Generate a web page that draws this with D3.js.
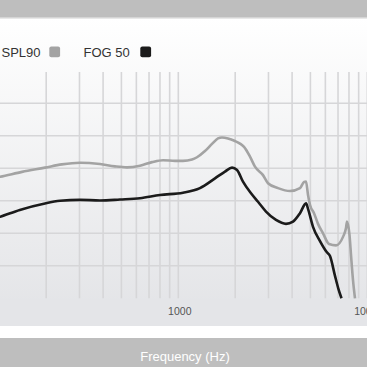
<!DOCTYPE html>
<html><head><meta charset="utf-8">
<script src="https://cdn.jsdelivr.net/npm/d3@7"></script>
<style>html,body{margin:0;padding:0;background:#fff;overflow:hidden}svg{display:block}</style>
</head><body>
<svg id="c" width="367" height="367"></svg>
<script>
const seriesNames = ["SPL90", "FOG 50"];
const seriesColors = ["#a3a3a3", "#1b1b1b"];
const xTickLabels = [100, 1000, 10000];
const yGridValues = [10, 20, 30, 40, 50, 60];
const axisTitle = "Frequency (Hz)";

const splFreq = [100,114,149,197,242,302,385,462,535,627,726,830,961,1059,1182,1256,1384,1508,1622,1703,1832,1995,2121,2227,2395,2545,2806,2983,3370,3899,4405,4625,4740,4857,4977,5224,5485,5830,6272,6831,7437,7715,7809,8050,8200,8401,8608];
const splDb   = [36.8,37.4,38.9,40.2,41.2,41.7,41.3,40.6,40.3,40.8,41.9,42.5,42.3,42.3,42.7,43.4,45.3,47.5,49.2,49.5,49.2,48.4,47.6,46.6,43.6,40.5,37.9,35.4,33.9,33.0,33.9,35.8,35.9,31.8,28.7,26.2,22.9,20.0,16.7,16.3,18.9,21.6,23.6,19.5,13.3,5.6,0];
const fogFreq = [100,114,145,197,237,302,385,491,627,800,1059,1302,1564,1766,1924,2045,2199,2425,2641,2911,3288,3714,4045,4405,4740,4875,5161,5620,6083,6348,6747,7025,7303];
const fogDb   = [24.1,25.1,27.2,29.2,30.0,30.3,30.1,30.4,30.8,31.8,32.5,33.9,36.9,39.0,40.2,39.5,35.9,32.3,29.7,26.7,24.1,22.9,23.6,26.2,29.2,27.2,22.0,17.6,14.3,13.0,6.9,3.0,0];

const W = 367, H = 367;
const svg = d3.select("#c");
const defs = svg.append("defs");
const grad = defs.append("linearGradient").attr("id","bg").attr("x1",0).attr("y1",0).attr("x2",0).attr("y2",1);
grad.append("stop").attr("offset","0%").attr("stop-color","#ffffff");
grad.append("stop").attr("offset","100%").attr("stop-color","#e2e3e6");

const plotTop = 70.8, plotBottom = 298.3;
const x = d3.scaleLog().domain([100, 10000]).range([178.3 - 189, 178.3 + 189]);
const y = d3.scaleLinear().domain([0, 70]).range([plotBottom, plotTop]);

// background
svg.append("rect").attr("x",0).attr("y",18).attr("width",W).attr("height",308).attr("fill","url(#bg)");
svg.append("rect").attr("x",0).attr("y",298.3).attr("width",W).attr("height",28).attr("fill","#e4e5e8");
svg.append("rect").attr("x",0).attr("y",326).attr("width",W).attr("height",12).attr("fill","#ffffff");
// top bar
svg.append("rect").attr("x",0).attr("y",0).attr("width",W).attr("height",17.7).attr("fill","#bebebe");
svg.append("rect").attr("x",0).attr("y",17.7).attr("width",W).attr("height",1).attr("fill","#dedede");
// bottom bar
svg.append("rect").attr("x",0).attr("y",338).attr("width",W).attr("height",29).attr("fill","#bebebe");

// vertical grid
const vTicks = [];
[100,1000].forEach(d => { for (let m=1; m<=10; m++) vTicks.push(d*m); });
const vUnique = Array.from(new Set(vTicks));
svg.append("g").selectAll("line").data(vUnique).join("line")
  .attr("x1", d=>x(d)).attr("x2", d=>x(d))
  .attr("y1", 72).attr("y2", plotBottom)
  .attr("stroke", "#d6d6d8").attr("stroke-width", 1.6);
// horizontal grid
svg.append("g").selectAll("line").data(yGridValues).join("line")
  .attr("x1", 0).attr("x2", W)
  .attr("y1", d=>y(d)).attr("y2", d=>y(d))
  .attr("stroke", "#d6d6d8").attr("stroke-width", 1.6);

// x tick labels
svg.append("g").selectAll("text").data(xTickLabels).join("text")
  .attr("x", d=>x(d)+1.5).attr("y", 315)
  .attr("text-anchor","middle")
  .attr("font-family","'Liberation Sans', Arial, sans-serif")
  .attr("font-size", 10.5).attr("fill", "#555")
  .text(d=>d);

// lines
const line = d3.line().x(d=>x(d[0])).y(d=>y(d[1])).curve(d3.curveMonotoneX);
const clip = defs.append("clipPath").attr("id","pc");
clip.append("rect").attr("x",0).attr("y",plotTop).attr("width",W).attr("height",plotBottom-plotTop+1);
const g = svg.append("g").attr("clip-path","url(#pc)");
g.append("path").datum(d3.zip(splFreq, splDb)).attr("d", line)
  .attr("fill","none").attr("stroke", seriesColors[0]).attr("stroke-width",2.6).attr("stroke-linejoin","round");
g.append("path").datum(d3.zip(fogFreq, fogDb)).attr("d", line)
  .attr("fill","none").attr("stroke", seriesColors[1]).attr("stroke-width",2.6).attr("stroke-linejoin","round");

// legend
const legX = [1.5, 83.5], sqX = [49.3, 140.3];
seriesNames.forEach((n,i) => {
  svg.append("text").attr("x", legX[i]).attr("y", 56.8)
    .attr("font-family","'Liberation Sans', Arial, sans-serif")
    .attr("font-size", 13).attr("fill","#333").text(n);
  svg.append("rect").attr("x", sqX[i]).attr("y", 46.5).attr("width", 10.8).attr("height", 10.8)
    .attr("rx", 2).attr("fill", seriesColors[i]);
});

// axis title
svg.append("text").attr("x", 185).attr("y", 360.5).attr("text-anchor","middle")
  .attr("font-family","'Liberation Sans', Arial, sans-serif")
  .attr("font-size", 13).attr("fill","#ffffff").text(axisTitle);
</script>
</body></html>
